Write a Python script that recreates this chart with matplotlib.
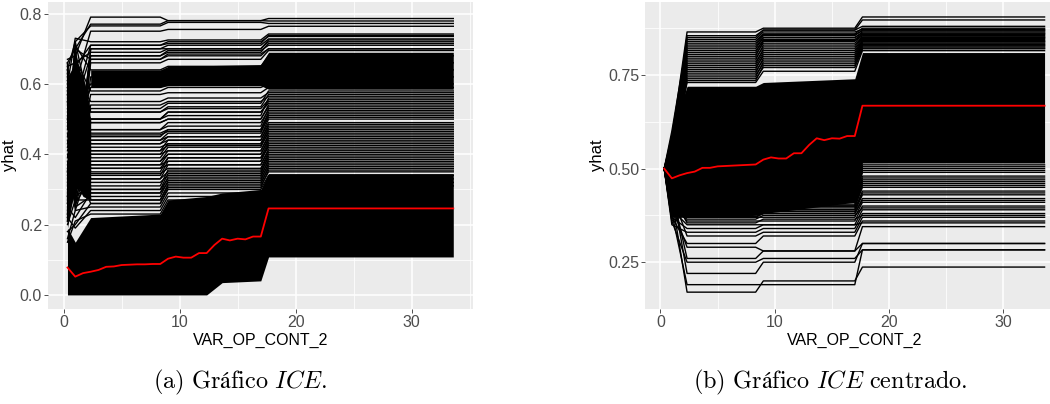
import numpy as np
import matplotlib.pyplot as plt

plt.rcParams['font.family'] = ['Liberation Sans', 'DejaVu Sans']
plt.rcParams['mathtext.fontset'] = 'cm'

# grid of VAR_OP_CONT_2 used for the partial dependence (red) curve
grid_x = [0.33, 1.0, 1.67, 2.33, 3.0, 3.67, 4.33, 5.0, 5.67, 6.33, 7.0, 7.67,
          8.33, 9.0, 9.67, 10.33, 11.0, 11.67, 12.33, 13.0, 13.67, 14.33,
          15.0, 15.67, 16.33, 17.0, 17.67, 33.6]
pdp_ice = [0.078, 0.052, 0.062, 0.066, 0.071, 0.080, 0.081, 0.085, 0.086,
           0.087, 0.087, 0.088, 0.088, 0.103, 0.109, 0.106, 0.106, 0.119,
           0.119, 0.142, 0.160, 0.155, 0.160, 0.158, 0.166, 0.166, 0.246,
           0.246]
pdp_centered = [0.500, 0.474, 0.482, 0.488, 0.492, 0.502, 0.502, 0.506,
                0.507, 0.508, 0.509, 0.510, 0.511, 0.524, 0.530, 0.527,
                0.527, 0.541, 0.541, 0.563, 0.581, 0.576, 0.581, 0.580,
                0.587, 0.587, 0.668, 0.668]

# individual ICE curves, sampled at the points where they change
knot_x = [0.33, 1.0, 2.33, 8.33, 9.0, 17.0, 17.67, 33.6]

ice_start = [0.67, 0.66, 0.64, 0.62, 0.60, 0.58, 0.55, 0.65, 0.52, 0.50,
             0.63, 0.45, 0.40, 0.61, 0.35, 0.57, 0.30, 0.48, 0.54, 0.28,
             0.38, 0.59, 0.26, 0.44, 0.33, 0.23, 0.50, 0.21, 0.36, 0.25,
             0.20, 0.47, 0.56, 0.42, 0.64, 0.31, 0.53, 0.18, 0.16, 0.22,
             0.15,
             0.62, 0.27, 0.55, 0.34, 0.66, 0.24, 0.58, 0.43, 0.29, 0.64,
             0.37, 0.21, 0.60, 0.32, 0.51, 0.26, 0.63, 0.46, 0.22, 0.57,
             0.61, 0.39, 0.66, 0.28, 0.59, 0.35, 0.49, 0.65, 0.23, 0.41]
ice_x1 = [0.68, 0.70, 0.72, 0.60, 0.73, 0.55, 0.30, 0.66, 0.40, 0.70,
          0.27, 0.62, 0.33, 0.64, 0.55, 0.28, 0.45, 0.66, 0.36, 0.50,
          0.25, 0.58, 0.42, 0.31, 0.63, 0.38, 0.26, 0.30, 0.48, 0.22,
          0.27, 0.71, 0.29, 0.52, 0.45, 0.67, 0.35, 0.20, 0.24, 0.19,
          0.21,
          0.31, 0.69, 0.26, 0.58, 0.35, 0.64, 0.29, 0.52, 0.70, 0.24,
          0.47, 0.61, 0.33, 0.56, 0.28, 0.68, 0.41, 0.25, 0.60, 0.37,
          0.30, 0.54, 0.27, 0.65, 0.32, 0.72, 0.44, 0.26, 0.66, 0.50]
ice_early = [0.79, 0.77, 0.765, 0.75, 0.72, 0.71, 0.70, 0.69, 0.68, 0.67,
             0.66, 0.55, 0.54, 0.52, 0.50, 0.49, 0.47, 0.46, 0.44, 0.43,
             0.42, 0.40, 0.38, 0.37, 0.36, 0.345, 0.33, 0.32, 0.30, 0.29,
             0.27, 0.64, 0.62, 0.60, 0.59, 0.58, 0.57, 0.26, 0.25, 0.24,
             0.23,
             0.50, 0.49, 0.47, 0.45, 0.44, 0.43, 0.41, 0.40, 0.39, 0.38,
             0.37, 0.35, 0.34, 0.33, 0.31, 0.30, 0.29, 0.28, 0.27, 0.26,
             0.67, 0.68, 0.70, 0.71, 0.53, 0.52, 0.50, 0.455, 0.41, 0.36]
ice_mid = [0.78, 0.78, 0.775, 0.755, 0.725, 0.72, 0.71, 0.70, 0.695, 0.685,
           0.67, 0.56, 0.55, 0.53, 0.52, 0.50, 0.49, 0.47, 0.45, 0.44,
           0.43, 0.41, 0.40, 0.38, 0.37, 0.36, 0.35, 0.34, 0.33, 0.32,
           0.31, 0.65, 0.63, 0.61, 0.60, 0.59, 0.575, 0.30, 0.29, 0.28,
           0.27,
           0.52, 0.50, 0.48, 0.47, 0.46, 0.45, 0.44, 0.43, 0.42, 0.41,
           0.40, 0.39, 0.38, 0.37, 0.355, 0.345, 0.335, 0.325, 0.315, 0.305,
           0.68, 0.69, 0.70, 0.715, 0.545, 0.535, 0.51, 0.465, 0.425, 0.39]
ice_end = [0.786, 0.779, 0.772, 0.764, 0.742, 0.735, 0.728, 0.72, 0.71, 0.70,
           0.695, 0.575, 0.565, 0.555, 0.545, 0.535, 0.525, 0.515, 0.49, 0.48,
           0.47, 0.45, 0.44, 0.43, 0.415, 0.405, 0.39, 0.38, 0.37, 0.36,
           0.35, 0.68, 0.66, 0.64, 0.62, 0.60, 0.59, 0.34, 0.33, 0.32,
           0.31,
           0.55, 0.54, 0.53, 0.52, 0.51, 0.50, 0.485, 0.475, 0.465, 0.455,
           0.445, 0.435, 0.425, 0.41, 0.40, 0.395, 0.385, 0.375, 0.365, 0.355,
           0.70, 0.715, 0.725, 0.738, 0.58, 0.57, 0.56, 0.505, 0.46, 0.42]

# solid black mass where the ICE curves overlap completely
band_x = [0.33, 1.0, 2.33, 8.33, 9.0, 12.33, 13.67, 17.0, 17.67, 33.6]
band_lo = [0.0, 0.0, 0.0, 0.0, 0.0, 0.0, 0.035, 0.04, 0.108, 0.108]
band_hi = [0.19, 0.15, 0.22, 0.23, 0.27, 0.28, 0.29, 0.30, 0.345, 0.345]
band2_x = [2.33, 8.33, 9.0, 17.0, 17.67, 33.6]
band2_lo = [0.59, 0.59, 0.595, 0.595, 0.585, 0.585]
band2_hi = [0.64, 0.64, 0.65, 0.655, 0.69, 0.69]
fan_x = [0.33, 1.0, 1.67, 2.33]
fan_lo = [0.19, 0.32, 0.28, 0.27]
fan_hi = [0.62, 0.66, 0.62, 0.50]

# centered ICE curves (all start at 0.5)
cice_x1 = [0.58, 0.55, 0.60, 0.53, 0.56, 0.52, 0.57, 0.54, 0.51, 0.55,
           0.53, 0.52, 0.54, 0.51, 0.53,
           0.56, 0.52, 0.59, 0.54, 0.51, 0.57, 0.53, 0.55, 0.52, 0.58,
           0.54, 0.51,
           0.42, 0.38, 0.45, 0.36, 0.44, 0.40, 0.37, 0.43, 0.35, 0.39,
           0.41, 0.38, 0.42, 0.40, 0.44, 0.39, 0.43, 0.41, 0.45, 0.42,
           0.46, 0.44,
           0.37, 0.43, 0.39, 0.45, 0.36, 0.42, 0.40, 0.44, 0.38, 0.41]
cice_early = [0.865, 0.85, 0.84, 0.83, 0.82, 0.81, 0.80, 0.79, 0.78, 0.775,
              0.77, 0.76, 0.75, 0.74, 0.73,
              0.855, 0.845, 0.835, 0.825, 0.815, 0.805, 0.795, 0.785, 0.765,
              0.755, 0.745, 0.735,
              0.17, 0.19, 0.22, 0.25, 0.26, 0.29, 0.30, 0.32, 0.33, 0.35,
              0.36, 0.37, 0.37, 0.38, 0.38, 0.39, 0.385, 0.39, 0.40, 0.40,
              0.41, 0.41,
              0.34, 0.355, 0.365, 0.372, 0.378, 0.383, 0.388, 0.393, 0.397,
              0.40]
cice_mid = [0.875, 0.87, 0.86, 0.855, 0.85, 0.845, 0.84, 0.83, 0.82, 0.81,
            0.80, 0.79, 0.78, 0.77, 0.76,
            0.87, 0.865, 0.858, 0.85, 0.842, 0.835, 0.825, 0.815, 0.805,
            0.795, 0.785, 0.775,
            0.20, 0.19, 0.25, 0.26, 0.28, 0.28, 0.32, 0.33, 0.34, 0.35,
            0.36, 0.37, 0.38, 0.385, 0.39, 0.40, 0.40, 0.41, 0.41, 0.42,
            0.42, 0.43,
            0.35, 0.365, 0.375, 0.38, 0.39, 0.395, 0.40, 0.405, 0.41, 0.415]
cice_end = [0.905, 0.897, 0.875, 0.87, 0.865, 0.86, 0.855, 0.85, 0.845, 0.84,
            0.835, 0.83, 0.825, 0.82, 0.815,
            0.88, 0.872, 0.868, 0.862, 0.858, 0.852, 0.848, 0.842, 0.838,
            0.832, 0.828, 0.822,
            0.237, 0.283, 0.30, 0.283, 0.30, 0.345, 0.36, 0.37, 0.38, 0.39,
            0.40, 0.41, 0.42, 0.43, 0.44, 0.45, 0.46, 0.47, 0.48, 0.49,
            0.50, 0.51,
            0.355, 0.375, 0.395, 0.415, 0.435, 0.455, 0.465, 0.475, 0.495,
            0.505]

cband_x = [0.33, 1.0, 1.67, 2.33, 8.33, 9.0, 17.0, 17.67, 33.6]
cband_lo = [0.5, 0.37, 0.37, 0.37, 0.375, 0.38, 0.41, 0.515, 0.515]
cband_hi = [0.5, 0.53, 0.66, 0.72, 0.72, 0.73, 0.74, 0.81, 0.81]


def style_axes(ax, yticks, yminor, ylim):
    ax.set_facecolor('#EBEBEB')
    for s in ax.spines.values():
        s.set_visible(False)
    ax.set_xlim(-1.35, 35.3)
    ax.set_ylim(*ylim)
    ax.set_xticks([0, 10, 20, 30])
    ax.set_xticks([5, 15, 25, 35], minor=True)
    ax.set_yticks(yticks)
    ax.set_yticks(yminor, minor=True)
    ax.grid(which='major', color='white', lw=1.1)
    ax.grid(which='minor', color='white', lw=0.55)
    ax.set_axisbelow(True)
    ax.tick_params(which='major', length=2.8, width=0.6, color='#333333',
                   labelcolor='#4D4D4D', labelsize=11.5, pad=1.5)
    ax.tick_params(which='minor', length=0)
    ax.set_xlabel('VAR_OP_CONT_2', fontsize=11.5, labelpad=2)
    ax.set_ylabel('yhat', fontsize=12, labelpad=2)


def curve(start, x1, early, mid, end):
    return [start, x1, early, early, mid, mid, end, end]


fig = plt.figure(figsize=(10.5, 4.04), dpi=100)
ax1 = fig.add_axes([48 / 1050, 1 - 309 / 404, 425 / 1050, 307 / 404])
ax2 = fig.add_axes([645 / 1050, 1 - 309 / 404, 419 / 1050, 307 / 404])

# (a) ICE
ax1.fill_between(band_x, band_lo, band_hi, color='black', lw=0)
ax1.fill_between(band2_x, band2_lo, band2_hi, color='black', lw=0)
ax1.fill_between(fan_x, fan_lo, fan_hi, color='black', lw=0)
for i in range(len(ice_end)):
    y = curve(ice_start[i], ice_x1[i], ice_early[i], ice_mid[i], ice_end[i])
    ax1.plot(knot_x, y, color='black', lw=1.0)
ax1.plot(grid_x, pdp_ice, color='red', lw=1.3)
style_axes(ax1, [0.0, 0.2, 0.4, 0.6, 0.8], [0.1, 0.3, 0.5, 0.7],
           (-0.04, 0.833))
ax1.set_yticklabels(['0.0', '0.2', '0.4', '0.6', '0.8'])

# (b) centered ICE
ax2.fill_between(cband_x, cband_lo, cband_hi, color='black', lw=0)
for i in range(len(cice_end)):
    y = curve(0.5, cice_x1[i], cice_early[i], cice_mid[i], cice_end[i])
    ax2.plot(knot_x, y, color='black', lw=1.0)
ax2.plot(grid_x, pdp_centered, color='red', lw=1.3)
style_axes(ax2, [0.25, 0.50, 0.75], [0.125, 0.375, 0.625, 0.875],
           (0.128, 0.945))
ax2.set_yticklabels(['0.25', '0.50', '0.75'])

fig.text(240 / 1050, 1 - 382 / 404, r'$\mathrm{(a)\ Gráfico}\ \mathit{ICE}.$',
         ha='center', va='center', fontsize=17.5)
fig.text(830 / 1050, 1 - 382 / 404,
         r'$\mathrm{(b)\ Gráfico}\ \mathit{ICE}\ \mathrm{centrado.}$',
         ha='center', va='center', fontsize=17.5)

fig.savefig('out.png', dpi=100)
